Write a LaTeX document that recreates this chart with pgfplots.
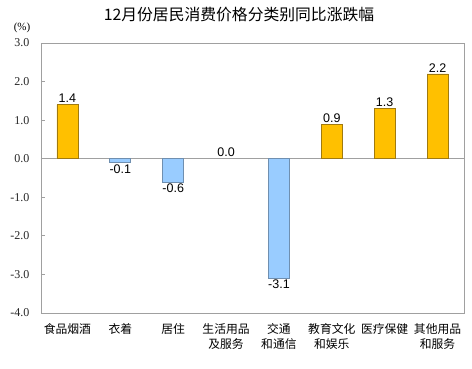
\documentclass[border=0pt]{standalone}
\usepackage{pgfplots}
\pgfplotsset{compat=1.18}
\usepackage{fontspec}
\setmainfont{Liberation Serif}
\newfontfamily\sans{Liberation Sans}
\newfontfamily\cjk{Noto Sans CJK SC}
\definecolor{barorange}{HTML}{FFC000}
\definecolor{barorangeedge}{HTML}{A07A10}
\definecolor{barblue}{HTML}{99CCFF}
\definecolor{barblueedge}{HTML}{6F8FB0}
\definecolor{axisgray}{HTML}{A0A0A0}
\begin{document}
\begin{tikzpicture}
\useasboundingbox (-41pt,-55pt) rectangle (431pt,313pt);
\begin{axis}[
  scale only axis, width=423pt, height=270pt,
  xmin=-0.5, xmax=7.5, ymin=-4, ymax=3,
  axis line style={axisgray, line width=0.8pt},
  xtick={0,...,7},
  xticklabels={食品烟酒,衣着,居住,{生活用品\\及服务},{交通\\和通信},{教育文化\\和娱乐},医疗保健,{其他用品\\和服务}},
  x tick style={draw=none},
  xticklabel style={font=\cjk\fontsize{11.8}{15}\selectfont, align=center, anchor=north, yshift=-3pt},
  ytick={-4,...,3},
  ytick pos=left, tick align=inside, major tick length=4pt,
  y tick style={axisgray, line width=0.8pt},
  /pgf/number format/assume math mode=true,
  yticklabel style={font=\fontsize{12}{14}\selectfont, xshift=-8pt, text=black!85,
    /pgf/number format/fixed, /pgf/number format/fixed zerofill, /pgf/number format/precision=1},
  extra y ticks={0}, extra y tick labels={},
  extra y tick style={grid=major, major grid style={axisgray, line width=0.8pt}, major tick length=0pt},
  ybar, bar width=21pt, bar shift=0pt,
  nodes near coords,
  nodes near coords align={vertical},
  every node near coord/.append style={font=\sans\fontsize{12.5}{14}\selectfont, inner sep=1.5pt, text=black,
    /pgf/number format/fixed, /pgf/number format/fixed zerofill, /pgf/number format/precision=1},
  clip=false,
]
\addplot[fill=barorange, draw=barorangeedge, line width=0.7pt] coordinates {(0,1.4) (5,0.9) (6,1.3) (7,2.2)};
\addplot[fill=barblue, draw=barblueedge, line width=0.7pt] coordinates {(1,-0.1) (2,-0.6) (4,-3.1)};
\addplot[fill=none, draw=none] coordinates {(3,0)};
\end{axis}
\node[font=\cjk\fontsize{15.8}{18}\selectfont] at (198pt,298pt) {12月份居民消费价格分类别同比涨跌幅};
\node[font=\fontsize{11}{13}\selectfont] at (-19pt,285pt) {(\%)};
\end{tikzpicture}
\end{document}
